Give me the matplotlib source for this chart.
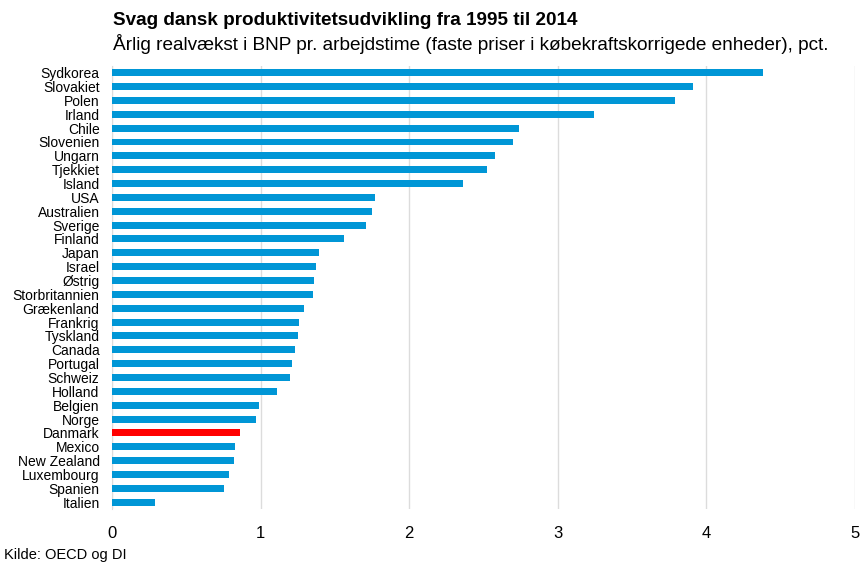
import matplotlib

matplotlib.use("Agg")
import matplotlib.pyplot as plt

plt.rcParams["font.family"] = ["Liberation Sans", "DejaVu Sans"]

BLUE, RED, GRID = "#0096d6", "#ff0000", "#dcdcdc"

countries = ["Sydkorea", "Slovakiet", "Polen", "Irland", "Chile", "Slovenien", "Ungarn",
             "Tjekkiet", "Island", "USA", "Australien", "Sverige", "Finland", "Japan",
             "Israel", "Østrig", "Storbritannien", "Grækenland", "Frankrig", "Tyskland",
             "Canada", "Portugal", "Schweiz", "Holland", "Belgien", "Norge", "Danmark",
             "Mexico", "New Zealand", "Luxembourg", "Spanien", "Italien"]
growth = [4.38, 3.91, 3.79, 3.24, 2.74, 2.70, 2.58, 2.52, 2.36, 1.77, 1.75, 1.71, 1.56,
          1.39, 1.37, 1.36, 1.35, 1.29, 1.26, 1.25, 1.23, 1.21, 1.20, 1.11, 0.99, 0.97,
          0.86, 0.83, 0.82, 0.79, 0.75, 0.29]
xticks = [0, 1, 2, 3, 4, 5]

fig = plt.figure(figsize=(8.62, 5.62), dpi=100)
ax = fig.add_axes([0.13, 0.094, 0.862, 0.789])

ypos = list(range(len(countries)))
colors = [RED if c == "Danmark" else BLUE for c in countries]
ax.barh(ypos, growth, height=0.5, color=colors, zorder=3)

ax.set_xlim(0, 5)
ax.set_ylim(len(countries) - 0.5, -0.5)
ax.set_yticks(ypos)
ax.set_yticklabels(countries, fontsize=10)
ax.set_xticks(xticks)
ax.set_xticklabels([str(t) for t in xticks], fontsize=12)
ax.tick_params(length=0)
ax.tick_params(axis="y", pad=9)
ax.tick_params(axis="x", pad=12)
ax.grid(axis="x", color=GRID, linewidth=1, zorder=0)
for s in ["top", "right", "bottom"]:
    ax.spines[s].set_visible(False)
ax.spines["left"].set_color(GRID)

fig.text(0.131, 0.963, "Svag dansk produktivitetsudvikling fra 1995 til 2014",
         fontsize=13.6, fontweight="bold", va="center")
fig.text(0.131, 0.922, "Årlig realvækst i BNP pr. arbejdstime (faste priser i købekraftskorrigede enheder), pct.",
         fontsize=13.7, va="center")
fig.text(0.005, 0.012, "Kilde: OECD og DI", fontsize=10.5, va="center")

fig.savefig("out.png", dpi=100)
